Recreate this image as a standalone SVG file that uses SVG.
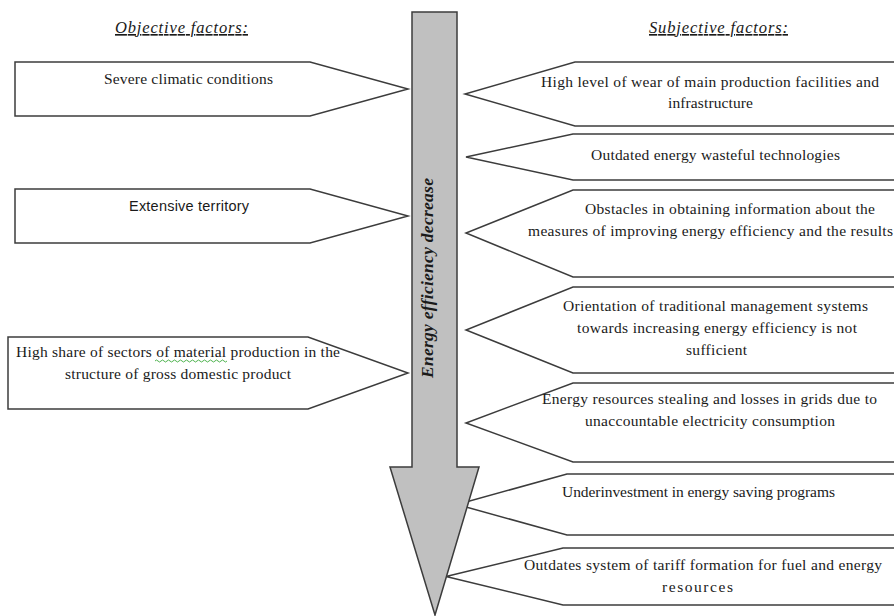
<svg xmlns="http://www.w3.org/2000/svg" width="894" height="616" viewBox="0 0 894 616">
<style>
.box{fill:#ffffff;stroke:#3c3c3c;stroke-width:1.5;stroke-linejoin:miter}
.main{fill:#c0c0c0;stroke:#3c3c3c;stroke-width:1.5}
.t{font-family:"Liberation Serif","Times New Roman",serif;font-size:15.5px;fill:#1a1a1a;text-anchor:middle}
.s{font-family:"Liberation Sans",Arial,sans-serif;font-size:14.5px;fill:#1a1a1a;text-anchor:middle}
.h{font-family:"Liberation Serif","Times New Roman",serif;font-size:16.5px;font-style:italic;fill:#1a1a1a;text-anchor:middle;text-decoration:underline}
.c{font-family:"Liberation Serif","Times New Roman",serif;font-size:17.5px;font-style:italic;font-weight:bold;fill:#1a1a1a;text-anchor:middle}
</style>
<rect width="894" height="616" fill="#ffffff"/>
<g id="headings">
<text class="h" x="181.5" y="33" textLength="133" lengthAdjust="spacing">Objective factors:</text>
<text class="h" x="718.5" y="33" textLength="139" lengthAdjust="spacing">Subjective factors:</text>
</g>
<g id="obj1">
<polygon class="box" points="15,62 310,62 408,89 310,116 15,116"/>
<text class="t" x="188.5" y="84" textLength="169" lengthAdjust="spacing">Severe climatic  conditions</text>
</g>
<g id="obj2">
<polygon class="box" points="15,189 310,189 408,216 310,243 15,243"/>
<text class="s" x="189" y="211" textLength="120" lengthAdjust="spacing">Extensive territory</text>
</g>
<g id="obj3">
<polygon class="box" points="8,337 308,337 408,373 308,409 8,409"/>
<text class="t" x="178" y="357" textLength="324" lengthAdjust="spacing">High share of sectors of  material production in the</text>
<text class="t" x="178" y="379" textLength="226" lengthAdjust="spacing">structure of gross domestic product</text>
<path d="M155,361 q1.5,-2 3,0 t3,0 t3,0 t3,0 t3,0 t3,0 t3,0 t3,0 t3,0 t3,0 t3,0 t3,0 t3,0 t3,0 t3,0 t3,0 t3,0 t3,0 t3,0 t3,0 t3,0 t3,0 t3,0 t3,0" fill="none" stroke="#3caa3c" stroke-width="0.9"/>
</g>
<g id="subj1">
<polygon class="box" points="575,62 900,62 900,126 575,126 465,94"/>
<text class="t" x="710" y="87" textLength="338" lengthAdjust="spacing">High level of wear of main production facilities  and</text>
<text class="t" x="710.5" y="108" textLength="85" lengthAdjust="spacing">infrastructure</text>
</g>
<g id="subj2">
<polygon class="box" points="573,134 900,134 900,180 573,180 466,157"/>
<text class="t" x="715.5" y="160" textLength="249" lengthAdjust="spacing">Outdated energy wasteful technologies</text>
</g>
<g id="subj3">
<polygon class="box" points="573,190 900,190 900,277 573,277 466,233"/>
<text class="t" x="730" y="214" textLength="290" lengthAdjust="spacing">Obstacles in obtaining information  about the</text>
<text class="t" x="710.5" y="236" textLength="365" lengthAdjust="spacing">measures of improving energy efficiency  and the results</text>
</g>
<g id="subj4">
<polygon class="box" points="573,287 900,287 900,373 573,373 466,330"/>
<text class="t" x="715.5" y="311" textLength="305" lengthAdjust="spacing">Orientation of traditional  management  systems</text>
<text class="t" x="717" y="333" textLength="280" lengthAdjust="spacing">towards increasing energy efficiency  is not</text>
<text class="t" x="716.5" y="355" textLength="61" lengthAdjust="spacing">sufficient</text>
</g>
<g id="subj5">
<polygon class="box" points="573,383 900,383 900,462 573,462 466,423"/>
<text class="t" x="709.5" y="404" textLength="335" lengthAdjust="spacing">Energy resources stealing and losses in grids due to</text>
<text class="t" x="710" y="426" textLength="250" lengthAdjust="spacing">unaccountable electricity  consumption</text>
</g>
<g id="subj6">
<polygon class="box" points="567,474 900,474 900,535 567,535 457,504.5"/>
<text class="t" x="698.5" y="497" textLength="273" lengthAdjust="spacing">Underinvestment in energy saving programs</text>
</g>
<g id="subj7">
<polygon class="box" points="563,548 900,548 900,605 563,605 446,576.5"/>
<text class="t" x="703" y="570" textLength="358" lengthAdjust="spacing">Outdates system of tariff formation for fuel and energy</text>
<text class="t" x="697.5" y="592" textLength="71" lengthAdjust="spacing">resources</text>
</g>
<g id="central">
<polygon class="main" points="412,12 457,12 457,467 479,467 435,615 390,467 412,467"/>
<text class="c" transform="translate(433,278) rotate(-90)" x="0" y="0" textLength="200" lengthAdjust="spacing">Energy efficiency decrease</text>
</g>
<g id="connectors"/>
</svg>
